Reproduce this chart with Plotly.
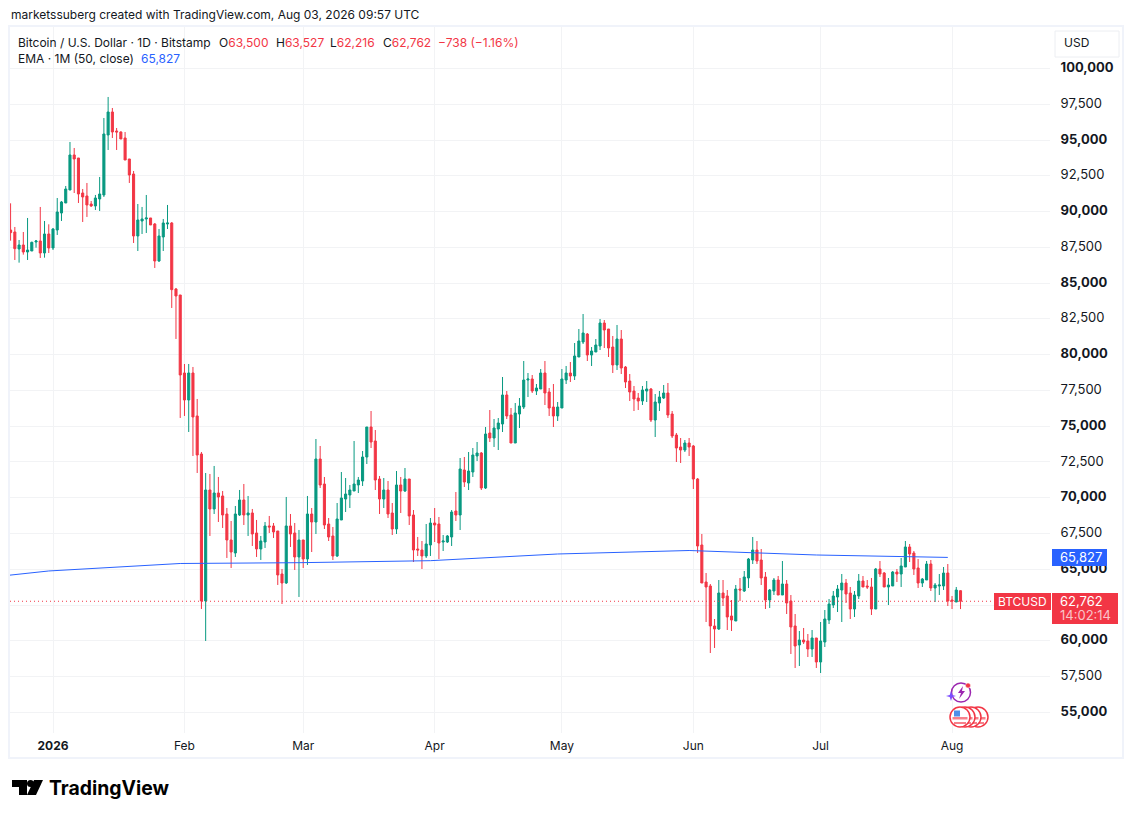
import pandas as pd
import plotly.graph_objects as go

first_day = '2025-12-22'

opens = [88714, 88574, 87386, 87665, 87176, 87246, 87875, 87945, 87106, 88434,
  87456, 88714, 89902, 90601, 91510, 93957, 93747, 91300, 91091, 90531,
  90392, 90881, 91161, 95355, 96962, 95634, 95564, 95145, 93677, 92628,
  88295, 89343, 89483, 89553, 89133, 86547, 88225, 89133, 89203, 84590,
  84170, 78718, 76831, 78718, 75713, 73056, 62781, 70540, 69212, 70330,
  70121, 68862, 67045, 66136, 68792, 69841, 68792, 68932, 67534, 66416,
  66905, 68024, 68024, 67674, 64668, 64039, 68024, 67534, 65857, 67045,
  65717, 68861, 68302, 72706, 70958, 68162, 67324, 65926, 68442, 69910,
  70189, 70469, 70889, 71168, 72846, 74943, 73964, 71308, 69910, 70539,
  68931, 67813, 70889, 70469, 71308, 68792, 66415, 66345, 65926, 66694,
  68232, 68162, 66904, 66904, 67254, 69071, 68792, 71937, 71028, 71797,
  72916, 73125, 70679, 74523, 74174, 74803, 75152, 77180, 75782, 73824,
  75851, 76341, 78228, 78298, 77459, 77599, 78717, 77389, 76341, 75712,
  76271, 78228, 78717, 78508, 79836, 80884, 81443, 79976, 80185, 80605,
  82212, 81793, 80535, 79277, 81094, 79137, 78158, 77459, 76970, 76760,
  77459, 77599, 75432, 76620, 76970, 77319, 75851, 74383, 73545, 73335,
  73824, 73615, 71308, 66695, 64108, 63829, 61033, 60823, 63339, 63130,
  61732, 61382, 63619, 63479, 64388, 65646, 66345, 65646, 64458, 62850,
  63479, 64248, 63199, 63968, 62780, 61033, 59705, 60054, 59984, 59425,
  60194, 58516, 59914, 61452, 62500, 63060, 63549, 64038, 63339, 62221,
  63130, 64178, 63829, 63759, 62221, 65017, 64737, 63759, 63829, 64807,
  64667, 65157, 66555, 66135, 65087, 64038, 64248, 65366, 63689, 63829,
  63829, 64737, 62850, 62710, 63500]
highs = [90578, 88924, 88015, 88574, 89553, 87899, 88015, 90322, 89343, 89110,
  88854, 90951, 90741, 91790, 94865, 94446, 93747, 91580, 91999, 90741,
  91161, 92419, 96543, 98011, 97242, 95844, 95611, 95564, 93677, 92838,
  90531, 90322, 91161, 89553, 89203, 88784, 89483, 90462, 89270, 84660,
  84170, 79347, 79347, 79138, 76901, 73196, 71728, 71658, 72218, 71449,
  70470, 69282, 68373, 69422, 70540, 70959, 70121, 69212, 68443, 67325,
  68303, 68723, 68233, 67674, 65018, 70051, 68862, 68233, 67744, 67045,
  70121, 69281, 74104, 73615, 71448, 68582, 67953, 69630, 71797, 71378,
  70889, 73964, 71448, 73265, 74943, 76061, 74733, 71518, 71378, 71168,
  69630, 71867, 71448, 72077, 71308, 69141, 67254, 66974, 68162, 68582,
  69281, 68652, 67394, 67394, 69141, 70399, 72776, 72846, 73195, 73475,
  73894, 73195, 74943, 76131, 75502, 75572, 78438, 77459, 76271, 76620,
  76970, 79556, 78717, 78577, 77948, 78997, 79556, 77669, 77948, 76690,
  78997, 79207, 79486, 80814, 81793, 82841, 81513, 80535, 81094, 82492,
  82422, 81793, 81304, 82073, 81723, 79207, 78647, 77809, 77319, 77809,
  78158, 77669, 77249, 77459, 77879, 78018, 76061, 74523, 74174, 74034,
  74174, 73685, 71378, 67463, 64737, 63968, 61522, 64248, 64248, 63549,
  62850, 63898, 64388, 64877, 65786, 67254, 66974, 66415, 64807, 63619,
  64388, 64528, 65576, 64248, 63199, 61871, 60683, 60893, 60473, 60753,
  60194, 61312, 62151, 62920, 63479, 63898, 64667, 64318, 63759, 63479,
  64667, 64528, 64248, 64388, 65087, 65576, 64807, 64388, 64877, 65017,
  65786, 66974, 66764, 66275, 65716, 64388, 65576, 65646, 64038, 64667,
  65157, 65366, 63130, 63759, 63527]
lows = [87968, 86617, 86431, 86990, 86617, 87246, 87479, 86757, 86780, 87106,
  87316, 88365, 89343, 90601, 91510, 91300, 90601, 89273, 89623, 90322,
  90112, 90042, 91021, 94306, 95145, 94306, 95075, 93607, 92000, 87805,
  87246, 88434, 88504, 89064, 86058, 86477, 87246, 88784, 83262, 81095,
  75573, 75713, 74594, 72917, 71728, 62222, 59985, 67325, 68862, 68303,
  67884, 65787, 65088, 65857, 68723, 68093, 67325, 66626, 65857, 65647,
  66486, 67534, 67185, 63900, 62571, 63969, 66556, 64948, 63061, 65088,
  65297, 66205, 67463, 70679, 67813, 66974, 65646, 65856, 68442, 69001,
  69281, 70469, 70329, 70819, 72356, 73475, 70539, 68861, 69281, 68582,
  67394, 67463, 68931, 70399, 68092, 65506, 65926, 65017, 65786, 65926,
  66904, 65716, 66275, 66834, 66625, 68372, 67743, 70749, 70539, 71448,
  72566, 70539, 70609, 73894, 73545, 73335, 74593, 75502, 73824, 73824,
  74873, 76201, 77040, 77319, 77180, 77599, 76480, 75712, 74943, 75362,
  76271, 77948, 78088, 78228, 79836, 80744, 79556, 79207, 80185, 80325,
  80465, 79836, 78717, 78927, 78647, 77669, 76760, 76061, 76131, 76480,
  76690, 75292, 74244, 76061, 76900, 75572, 74174, 72496, 72426, 73195,
  72916, 70609, 66135, 64038, 61312, 59145, 59495, 60753, 62431, 60753,
  60683, 61382, 62780, 63409, 63689, 65366, 65366, 63899, 62221, 62291,
  63199, 63199, 63199, 61871, 59075, 58097, 58237, 59775, 58866, 58866,
  58097, 57747, 59565, 61172, 62291, 62011, 61312, 62640, 61522, 61662,
  62920, 63759, 63619, 61802, 62221, 64458, 63759, 62500, 63829, 64108,
  63759, 65157, 65506, 64598, 63689, 63759, 64248, 63479, 62710, 63200,
  63549, 62431, 62221, 62710, 62216]
closes = [88528, 87409, 87665, 87176, 87316, 87852, 87945, 87106, 88434, 87456,
  88784, 89972, 90671, 91580, 93957, 93677, 91230, 91021, 90462, 90392,
  90951, 91230, 95424, 96962, 95564, 95564, 95075, 93607, 92559, 88295,
  89413, 89483, 89553, 89064, 86547, 88295, 89203, 89203, 84543, 84101,
  78579, 76831, 78718, 75643, 72986, 62781, 70540, 69212, 70330, 70051,
  68792, 67045, 66206, 68862, 69841, 68792, 68932, 67464, 66416, 66975,
  68024, 67954, 67604, 64599, 64039, 68024, 67464, 65857, 67045, 65717,
  68862, 68302, 72706, 70889, 68092, 67254, 65926, 68512, 69980, 70259,
  70539, 70958, 71238, 72846, 74943, 73894, 71238, 69910, 70539, 68861,
  67813, 70889, 70469, 71308, 68722, 66345, 66345, 65926, 66764, 68232,
  68092, 66834, 66974, 67324, 68999, 68792, 72007, 71098, 71867, 72986,
  73125, 70679, 74453, 74174, 74873, 75222, 77180, 75712, 73824, 75921,
  76411, 78228, 78298, 77459, 77669, 78717, 77319, 76271, 75712, 76341,
  78298, 78717, 78508, 79906, 80954, 81513, 79976, 80255, 80675, 82212,
  81723, 80465, 79277, 81094, 79067, 78088, 77389, 76900, 76760, 77529,
  77599, 75432, 76690, 77040, 77319, 75782, 74314, 73475, 73335, 73824,
  73545, 71308, 66625, 64038, 63759, 61033, 60823, 63339, 62990, 61662,
  61452, 63619, 63549, 64458, 65716, 66345, 65576, 64388, 62850, 63549,
  64248, 63199, 63968, 62640, 60963, 59635, 60054, 59914, 59425, 60194,
  58516, 59984, 61522, 62570, 63130, 63619, 64038, 63269, 62221, 63200,
  64178, 63759, 63759, 62221, 65017, 64667, 63759, 63898, 64807, 64667,
  65227, 66555, 66065, 65017, 64038, 64318, 65366, 63689, 63898, 63898,
  64737, 62780, 62780, 63549, 62762]

ema_dates = ['2025-12-21', '2025-12-31', '2026-01-31', '2026-02-28', '2026-03-31',
  '2026-04-30', '2026-05-31', '2026-06-30', '2026-07-31']
ema_values = [64560, 64878, 65402, 65458, 65598, 66066, 66310, 65996, 65827]

month_ticks = ['2026-01-01', '2026-02-01', '2026-03-01', '2026-04-01', '2026-05-01',
  '2026-06-01', '2026-07-01', '2026-08-01']
month_labels = ['<b>2026</b>', 'Feb', 'Mar', 'Apr', 'May', 'Jun', 'Jul', 'Aug']

price_ticks = list(range(55000, 102500, 2500))
price_labels = ['<b>55,000</b>', '57,500', '<b>60,000</b>', '', '<b>65,000</b>', '67,500',
  '<b>70,000</b>', '72,500', '<b>75,000</b>', '77,500', '<b>80,000</b>', '82,500',
  '<b>85,000</b>', '87,500', '<b>90,000</b>', '92,500', '<b>95,000</b>', '97,500',
  '<b>100,000</b>']

GREEN = '#089981'
RED = '#f23645'
BLUE = '#2962ff'
INK = '#131722'
FONT = 'Inter'
W, H = 1133, 818


# the page furniture is placed in screen pixels, these turn them into paper coords
def px(x):
  return x / W

def py(y):
  return 1 - y / H

def rect(x0, y0, x1, y1, fill=None, line=None, lw=1):
  return dict(type='rect', xref='paper', yref='paper', x0=px(x0), y0=py(y0), x1=px(x1), y1=py(y1),
              fillcolor=fill or 'rgba(0,0,0,0)', line=dict(color=line or 'rgba(0,0,0,0)', width=lw if line else 0))

def circle(cx, cy, r, fill=None, line=None, lw=1):
  s = rect(cx - r, cy - r, cx + r, cy + r, fill, line, lw)
  s['type'] = 'circle'
  return s

def poly(points, fill=None, line=None, lw=1, close=True):
  path = 'M ' + ' L '.join('{:.5f} {:.5f}'.format(px(x), py(y)) for x, y in points)
  if close:
    path += ' Z'
  return dict(type='path', xref='paper', yref='paper', path=path, fillcolor=fill or 'rgba(0,0,0,0)',
              line=dict(color=line or 'rgba(0,0,0,0)', width=lw if line else 0))

def label(x, y, text, size=12, color=INK, anchor='left'):
  return dict(xref='paper', yref='paper', x=px(x), y=py(y), text=text, showarrow=False,
              xanchor=anchor, yanchor='middle', align='left', borderpad=0,
              font=dict(family=FONT, size=size, color=color))


dates = pd.date_range(first_day, periods=len(closes), freq='D')

fig = go.Figure()
fig.add_trace(go.Candlestick(
  x=dates, open=opens, high=highs, low=lows, close=closes,
  increasing=dict(line=dict(color=GREEN, width=1), fillcolor=GREEN),
  decreasing=dict(line=dict(color=RED, width=1), fillcolor=RED),
  whiskerwidth=0, showlegend=False, hoverinfo='skip'))
fig.add_trace(go.Scatter(x=ema_dates, y=ema_values, mode='lines', line=dict(color=BLUE, width=1),
                         showlegend=False, hoverinfo='skip'))

shapes = [
  rect(9, 26, 1123, 758, None, '#f0f3fa', 2),
  dict(type='line', xref='paper', yref='y', x0=px(10), x1=px(1050), y0=closes[-1], y1=closes[-1],
       line=dict(color=RED, width=1, dash='1px,3px'), layer='above'),
  rect(1055, 31, 1119, 57, '#ffffff', '#eceef2', 1),
  rect(1052, 549, 1107, 566, BLUE),
  rect(994, 593, 1051, 610, RED),
  rect(1052, 593, 1118, 624, RED),
]

# logo
shapes += [
  poly([(12, 780), (27, 780), (27, 795), (19, 795), (19, 787), (12, 787)], '#000000'),
  circle(30.5, 783.5, 3.5, '#000000'),
  poly([(34, 780), (43, 780), (36, 795), (27, 795)], '#000000'),
]

# event badges
shapes += [
  circle(961, 692.5, 9.5, None, '#9c27b0', 1.5),
  poly([(963, 686), (958, 693), (961, 693), (959, 699), (965, 691), (962, 691)], '#9c27b0'),
  circle(968, 685.5, 2.5, RED, '#ffffff', 0.5),
  poly([(951, 691), (952.3, 695), (956, 696), (952.3, 697), (951, 701), (949.7, 697), (946, 696), (949.7, 695)], '#7c4dff'),
]
for cx in [978, 971, 965, 960]:
  shapes += [
    circle(cx, 717, 10, '#ffffff', RED, 1.5),
    rect(cx - 7.5, 717, cx + 7.5, 719.5, '#f7818b'),
    rect(cx - 6, 722, cx + 6, 724, '#f7818b'),
    rect(cx - 6, 710.5, cx, 716.5, '#4f8fe8'),
  ]

annotations = [
  label(9.5, 15, 'marketssuberg created with TradingView.com, Aug 03, 2026 09:57 UTC'),
  label(17, 43, 'Bitcoin / U.S. Dollar · 1D · Bitstamp'),
  label(217.5, 43, 'O<span style="color:{0}">63,500</span>'.format(RED)),
  label(275, 43, 'H<span style="color:{0}">63,527</span>'.format(RED)),
  label(329, 43, 'L<span style="color:{0}">62,216</span>'.format(RED)),
  label(382, 43, 'C<span style="color:{0}">62,762</span>'.format(RED)),
  label(436.5, 43, '−738 (−1.16%)', color=RED),
  label(17, 59, 'EMA · 1M (50, close)'),
  label(140, 59, '65,827', color=BLUE),
  label(1063, 43, 'USD'),
  label(1059, 557, '65,827', 13, '#ffffff'),
  label(997, 601.5, 'BTCUSD', 12, '#ffffff'),
  label(1059, 601, '62,762', 13, '#ffffff'),
  label(1059, 615, '14:02:14', 13, '#f9c4c9'),
  label(48, 788, '<b>TradingView</b>', 19.4, '#000000'),
]

fig.update_layout(
  width=W, height=H, margin=dict(l=0, r=0, t=0, b=0),
  paper_bgcolor='#ffffff', plot_bgcolor='#ffffff',
  font=dict(family=FONT, size=12, color=INK),
  showlegend=False, shapes=shapes, annotations=annotations,
  xaxis=dict(domain=[px(10), px(1050)], range=['2025-12-21 20:38', '2026-08-24 02:24'],
             rangeslider=dict(visible=False), tickmode='array', tickvals=month_ticks, ticktext=month_labels,
             showgrid=True, gridcolor='#f2f3f5', gridwidth=1, zeroline=False, showline=False,
             ticks='outside', ticklen=2, tickcolor='rgba(0,0,0,0)', tickfont=dict(family=FONT, size=12, color=INK)),
  yaxis=dict(domain=[py(733), py(27)], range=[53553, 102903], side='right',
             tickmode='array', tickvals=price_ticks, ticktext=price_labels,
             showgrid=True, gridcolor='#f2f3f5', gridwidth=1, zeroline=False, showline=False,
             ticks='outside', ticklen=7, tickcolor='rgba(0,0,0,0)', ticklabelshift=-1,
             tickfont=dict(family=FONT, size=13, color=INK)),
)

fig.write_html("out.html", config={'displayModeBar': False}, post_script="document.body.style.margin='0';")
